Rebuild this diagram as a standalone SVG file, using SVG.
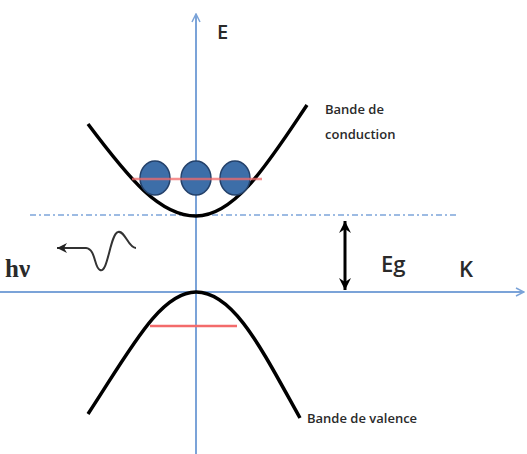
<svg xmlns="http://www.w3.org/2000/svg" width="527" height="454" viewBox="0 0 527 454">
<defs>
<marker id="ab" markerWidth="10" markerHeight="10" refX="9" refY="5" orient="auto" markerUnits="userSpaceOnUse"><path d="M1,1 L9,5 L1,9" fill="none" stroke="#7ba3d8" stroke-width="1.5"/></marker>
<marker id="ak" markerWidth="14" markerHeight="14" refX="12" refY="7" orient="auto-start-reverse" markerUnits="userSpaceOnUse"><path d="M0,1 L12,7 L0,13 L4,7 Z" fill="#000"/></marker>
<marker id="aw" markerWidth="12" markerHeight="10" refX="10" refY="5" orient="auto" markerUnits="userSpaceOnUse"><path d="M0,0 L10,5 L0,10 L3,5 Z" fill="#222"/></marker>
</defs>
<style>
.ax{stroke:#7ba3d8;stroke-width:2;fill:none}
.band{stroke:#000;stroke-width:3.5;fill:none}
.red{stroke:#f36b6b;stroke-width:2.5}
.el{fill:#3d6ea8;stroke:#24416a;stroke-width:1.5}
.t{font-family:"Open Sans","DejaVu Sans",sans-serif;fill:#2a2a2a;font-weight:600}
</style>
<rect width="527" height="454" fill="#fff"/>
<g id="connectors">
<line class="ax" x1="196" y1="454" x2="196" y2="14" marker-end="url(#ab)"/>
<line class="ax" x1="0" y1="292" x2="524" y2="292" marker-end="url(#ab)"/>
<line x1="30" y1="215" x2="456" y2="215" stroke="#9dbbe3" stroke-width="2" stroke-dasharray="6,3,2,3"/>
<line x1="345" y1="221" x2="345" y2="290" stroke="#000" stroke-width="3" marker-start="url(#ak)" marker-end="url(#ak)"/>
<path d="M136,248 C128,248 125,230 118,232 C110,234 108,274 100,270 C94,268 96,249 86,248 L57,248" fill="none" stroke="#333" stroke-width="2" marker-end="url(#aw)"/>
</g>
<g id="conduction">
<path class="band" d="M88,124 C130,180 160,216 196,216 C236,216 270,160 307,105"/>
<ellipse class="el" cx="155" cy="178" rx="15" ry="17"/>
<ellipse class="el" cx="196" cy="178" rx="15" ry="17"/>
<ellipse class="el" cx="235" cy="178" rx="15" ry="17"/>
<line class="red" x1="132" y1="179" x2="262" y2="179" opacity="0.75"/>
</g>
<g id="valence">
<path class="band" d="M88,414 C130,350 160,292 196,292 C234,292 262,350 300,418"/>
<line class="red" x1="150" y1="326" x2="237" y2="326"/>
</g>
<g id="labels">
<text class="t" x="217" y="39" font-size="20">E</text>
<text class="t" x="459" y="277" font-size="22">K</text>
<text class="t" x="381" y="272" font-size="22">Eg</text>
<text x="5" y="277" font-size="25" font-weight="bold" font-family="'Liberation Serif',serif" fill="#2a2a2a">hν</text>
<text class="t" x="325" y="114" font-size="13">Bande de</text>
<text class="t" x="325" y="139" font-size="13">conduction</text>
<text class="t" x="307" y="423" font-size="13">Bande de valence</text>
</g>
</svg>
